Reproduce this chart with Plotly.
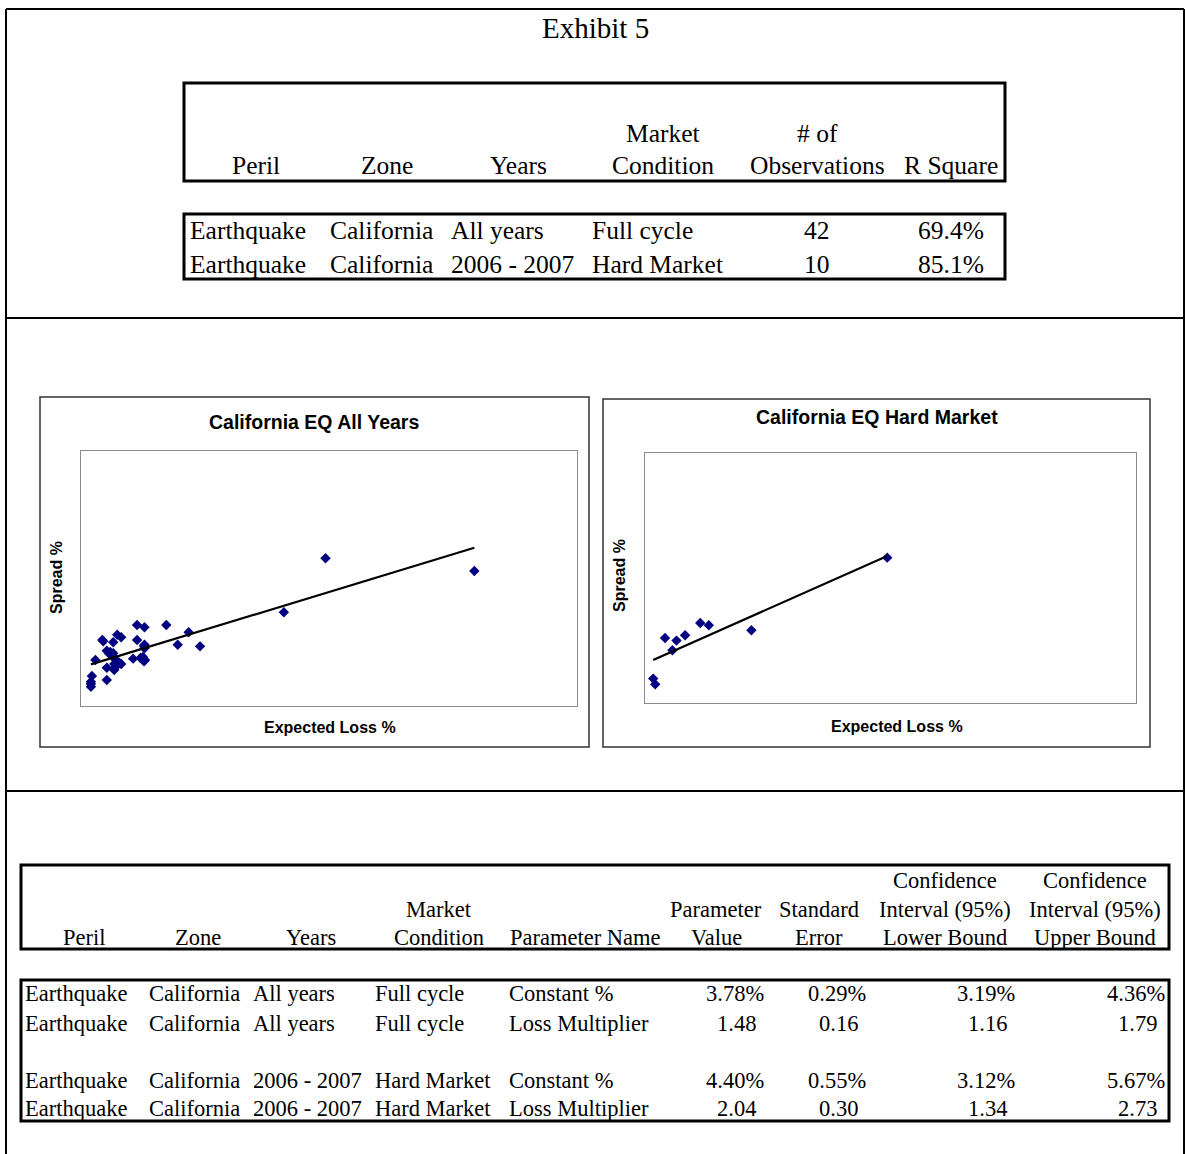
import plotly.graph_objects as go

W, H = 1185, 1154

# ---------------------------------------------------------------- data
# Summary regression table
sum_peril = ["Earthquake", "Earthquake"]
sum_zone = ["California", "California"]
sum_years = ["All years", "2006 - 2007"]
sum_market = ["Full cycle", "Hard Market"]
sum_obs = [42, 10]
sum_rsq = [69.4, 85.1]

# Parameter estimates table
par_peril = ["Earthquake", "Earthquake", "Earthquake", "Earthquake"]
par_zone = ["California", "California", "California", "California"]
par_years = ["All years", "All years", "2006 - 2007", "2006 - 2007"]
par_market = ["Full cycle", "Full cycle", "Hard Market", "Hard Market"]
par_name = ["Constant %", "Loss Multiplier", "Constant %", "Loss Multiplier"]
par_value = [3.78, 1.48, 4.40, 2.04]
par_se = [0.29, 0.16, 0.55, 0.30]
par_lower = [3.19, 1.16, 3.12, 1.34]
par_upper = [4.36, 1.79, 5.67, 2.73]
par_is_pct = [True, False, True, False]

# Scatter data: expected loss % vs spread %
all_el = [4.93, 7.93, 4.09, 1.13, 1.28, 1.72, 2.17, 1.95, 2.40, 0.43,
          0.65, 0.73, 0.81, 1.13, 1.28, 1.28, 0.52, 0.56, 0.65, 0.29,
          1.05, 1.20, 1.29, 0.73, 0.81, 0.67, 0.52, 0.67, 0.52, 0.22,
          0.20, 0.20, 0.59, 0.70, 0.77, 1.25, 1.27, 0.62, 0.20, 1.27,
          0.69, 0.45]
all_spread = [14.48, 13.24, 9.19, 7.94, 7.72, 7.94, 7.23, 6.01, 5.85, 6.47,
              6.25, 6.99, 6.74, 6.47, 6.01, 5.66, 5.42, 5.17, 5.17, 4.51,
              4.64, 4.71, 4.51, 4.38, 4.12, 4.12, 3.75, 3.53, 2.55, 2.94,
              2.38, 1.89, 5.29, 4.51, 4.25, 4.80, 4.38, 5.00, 2.16, 5.88,
              3.79, 6.34]

hard_el = [5.92, 2.60, 1.35, 1.56, 0.98, 0.49, 0.77, 0.67, 0.20, 0.25]
hard_spread = [16.28, 8.14, 8.96, 8.70, 7.58, 7.28, 6.99, 5.90, 2.73, 2.09]

all_const, all_mult = par_value[0], par_value[1]
hard_const, hard_mult = par_value[2], par_value[3]

# ---------------------------------------------------------------- helpers
def fx(x):
    return x / W


def fy(y):
    return 1 - y / H


SERIF = "Liberation Serif, Times New Roman, serif"
SANS = "Liberation Sans, Arial, sans-serif"

annotations = []
shapes = []


def text(x, y, s, size=24, anchor="center", font=SERIF, bold=False, angle=0, color="#000"):
    annotations.append(dict(
        x=fx(x), y=fy(y), xref="paper", yref="paper", text=f"<b>{s}</b>" if bold else s,
        showarrow=False, xanchor=anchor, yanchor="middle", textangle=angle,
        font=dict(family=font, size=size, color=color), borderpad=0))


def rect(x0, y0, x1, y1, width=3, color="#000"):
    shapes.append(dict(type="rect", xref="paper", yref="paper",
                       x0=fx(x0), x1=fx(x1), y0=fy(y0), y1=fy(y1),
                       line=dict(color=color, width=width), layer="above"))


def hline(x0, x1, y, width=2):
    shapes.append(dict(type="line", xref="paper", yref="paper",
                       x0=fx(x0), x1=fx(x1), y0=fy(y), y1=fy(y),
                       line=dict(color="#000", width=width)))


def vline(x, y0, y1, width=2):
    shapes.append(dict(type="line", xref="paper", yref="paper",
                       x0=fx(x), x1=fx(x), y0=fy(y0), y1=fy(y1),
                       line=dict(color="#000", width=width)))


# ---------------------------------------------------------------- page frame
hline(6, 1184, 9)
vline(6, 9, 1154)
vline(1184, 9, 1154)
hline(6, 1184, 318)
hline(6, 1184, 791)

# ---------------------------------------------------------------- title
text(595, 28, "Exhibit 5", size=29)

# ---------------------------------------------------------------- summary table
rect(184, 83, 1005, 181)
rect(184, 214, 1005, 279)
ts = 25.5
text(256, 165, "Peril", ts)
text(387, 165, "Zone", ts)
text(518, 165, "Years", ts)
text(663, 133, "Market", ts)
text(663, 165, "Condition", ts)
text(817, 133, "# of", ts)
text(817, 165, "Observations", ts)
text(951, 165, "R Square", ts)
for i, ry in enumerate([231, 264]):
    text(189, ry, sum_peril[i], ts, anchor="left")
    text(329, ry, sum_zone[i], ts, anchor="left")
    text(450, ry, sum_years[i], ts, anchor="left")
    text(591, ry, sum_market[i], ts, anchor="left")
    text(817, ry, f"{sum_obs[i]}", ts)
    text(985, ry, f"{sum_rsq[i]:.1f}%", ts, anchor="right")

# ---------------------------------------------------------------- parameter table
rect(21, 865, 1169, 949)
rect(21, 980, 1169, 1121)
bs = 22.5
text(84, 937, "Peril", bs)
text(198, 937, "Zone", bs)
text(311, 937, "Years", bs)
text(439, 909, "Market", bs)
text(439, 937, "Condition", bs)
text(585, 937, "Parameter Name", bs)
text(716, 909, "Parameter", bs)
text(716, 937, "Value", bs)
text(819, 909, "Standard", bs)
text(819, 937, "Error", bs)
text(945, 880, "Confidence", bs)
text(945, 909, "Interval (95%)", bs)
text(945, 937, "Lower Bound", bs)
text(1095, 880, "Confidence", bs)
text(1095, 909, "Interval (95%)", bs)
text(1095, 937, "Upper Bound", bs)


def fmt(v, pct):
    return f"{v:.2f}%" if pct else f"{v:.2f}"


for i, ry in enumerate([994, 1023, 1080, 1108]):
    pct = par_is_pct[i]
    pad = 0 if pct else 8
    text(24, ry, par_peril[i], bs, anchor="left")
    text(148, ry, par_zone[i], bs, anchor="left")
    text(252, ry, par_years[i], bs, anchor="left")
    text(374, ry, par_market[i], bs, anchor="left")
    text(508, ry, par_name[i], bs, anchor="left")
    text(765 - pad, ry, fmt(par_value[i], pct), bs, anchor="right")
    text(867 - pad, ry, fmt(par_se[i], pct), bs, anchor="right")
    text(1016 - pad, ry, fmt(par_lower[i], pct), bs, anchor="right")
    text(1166 - pad, ry, fmt(par_upper[i], pct), bs, anchor="right")

# ---------------------------------------------------------------- charts
rect(40, 397, 589, 747, width=1.5, color="#333")
rect(603, 399, 1150, 747, width=1.5, color="#333")

text(314, 422, "California EQ All Years", 19.5, font=SANS, bold=True)
text(877, 417, "California EQ Hard Market", 19.5, font=SANS, bold=True)
text(330, 727, "Expected Loss %", 16, font=SANS, bold=True)
text(897, 726, "Expected Loss %", 16, font=SANS, bold=True)
text(56, 578, "Spread %", 16, font=SANS, bold=True, angle=-90)
text(619, 576, "Spread %", 16, font=SANS, bold=True, angle=-90)

fig = go.Figure()

navy = "#000080"
mk = dict(symbol="diamond", size=8, color=navy, line=dict(width=0))

fig.add_trace(go.Scatter(x=all_el, y=all_spread, mode="markers", marker=mk,
                         xaxis="x", yaxis="y", hoverinfo="x+y"))
x_fit = [min(all_el), max(all_el)]
fig.add_trace(go.Scatter(x=x_fit, y=[all_const + all_mult * v for v in x_fit], mode="lines",
                         line=dict(color="#000", width=2.2), xaxis="x", yaxis="y"))

fig.add_trace(go.Scatter(x=hard_el, y=hard_spread, mode="markers", marker=mk,
                         xaxis="x2", yaxis="y2", hoverinfo="x+y"))
x_fit2 = [min(hard_el), max(hard_el)]
fig.add_trace(go.Scatter(x=x_fit2, y=[hard_const + hard_mult * v for v in x_fit2], mode="lines",
                         line=dict(color="#000", width=2.2), xaxis="x2", yaxis="y2"))

ax_common = dict(showticklabels=False, showgrid=False, zeroline=False, ticks="",
                 showline=True, mirror=True, linecolor="#8c8c8c", linewidth=1, fixedrange=True)

fig.update_layout(
    width=W, height=H, autosize=False,
    margin=dict(l=0, r=0, t=0, b=0),
    paper_bgcolor="white", plot_bgcolor="white",
    showlegend=False,
    xaxis=dict(domain=[fx(81), fx(577)], range=[0, 10], anchor="y", **ax_common),
    yaxis=dict(domain=[fy(706), fy(451)], range=[0, 25], anchor="x", **ax_common),
    xaxis2=dict(domain=[fx(645), fx(1136)], range=[0, 12], anchor="y2", **ax_common),
    yaxis2=dict(domain=[fy(703), fy(453)], range=[0, 28], anchor="x2", **ax_common),
    annotations=annotations,
    shapes=shapes,
)

fig.write_html("out.html")
